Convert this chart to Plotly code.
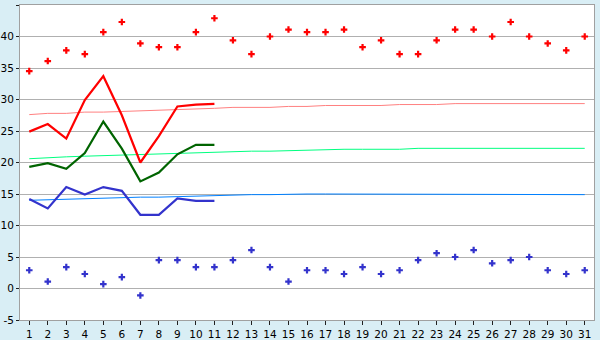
import plotly.graph_objects as go

days = list(range(1, 32))
max_temp = [34.5, 36.1, 37.8, 37.2, 40.7, 42.3, 38.9, 38.3, 38.3, 40.7, 42.9, 39.4, 37.2, 40.0, 41.1, 40.7,
            40.7, 41.1, 38.3, 39.4, 37.2, 37.2, 39.4, 41.1, 41.1, 40.0, 42.3, 40.0, 38.9, 37.8, 40.0]
min_temp = [2.9, 1.1, 3.4, 2.3, 0.7, 1.8, -1.1, 4.5, 4.5, 3.4, 3.4, 4.5, 6.1, 3.4, 1.1, 2.9,
            2.9, 2.3, 3.4, 2.3, 2.9, 4.5, 5.6, 5.0, 6.1, 4.0, 4.5, 5.0, 2.9, 2.3, 2.9]
days_obs = list(range(1, 12))
avg_max = [24.9, 26.1, 23.8, 29.9, 33.7, 27.5, 20.0, 24.2, 28.9, 29.2, 29.3]
avg_mean = [19.3, 19.9, 19.0, 21.5, 26.5, 22.2, 17.0, 18.4, 21.3, 22.8, 22.8]
avg_min = [14.2, 12.7, 16.1, 14.9, 16.1, 15.5, 11.7, 11.7, 14.3, 13.9, 13.9]
norm_max = [27.6, 27.8, 27.8, 28.0, 28.0, 28.1, 28.2, 28.3, 28.3, 28.5, 28.6, 28.75, 28.75, 28.75, 28.9, 28.9,
            29.05, 29.05, 29.05, 29.05, 29.2, 29.2, 29.2, 29.35, 29.35, 29.35, 29.35, 29.35, 29.35, 29.35, 29.35]
norm_mean = [20.6, 20.8, 20.9, 21.0, 21.1, 21.2, 21.3, 21.4, 21.4, 21.5, 21.6, 21.8, 21.8, 21.8, 21.9, 21.9,
             22.1, 22.1, 22.1, 22.1, 22.1, 22.25, 22.25, 22.25, 22.25, 22.25, 22.25, 22.25, 22.25, 22.25, 22.25]
norm_min = [14.0, 14.1, 14.2, 14.3, 14.3, 14.5, 14.5, 14.5, 14.6, 14.7, 14.8, 14.9, 14.9, 14.9, 15.0, 15.0,
            15.0, 15.0, 15.0, 15.0, 15.0, 15.0, 15.0, 15.0, 15.0, 15.0, 15.0, 15.0, 15.0, 14.95, 14.9]
y_ticks = [-5, 0, 5, 10, 15, 20, 25, 30, 35, 40, 45]

fig = go.Figure()
fig.add_trace(go.Scatter(x=days, y=norm_max, mode="lines", line=dict(color="#FF8080", width=1)))
fig.add_trace(go.Scatter(x=days, y=norm_mean, mode="lines", line=dict(color="#00FF80", width=1)))
fig.add_trace(go.Scatter(x=days, y=norm_min, mode="lines", line=dict(color="#0080FF", width=1)))
fig.add_trace(go.Scatter(x=days_obs, y=avg_max, mode="lines", line=dict(color="#FF0000", width=2.2)))
fig.add_trace(go.Scatter(x=days_obs, y=avg_mean, mode="lines", line=dict(color="#006400", width=2.2)))
fig.add_trace(go.Scatter(x=days_obs, y=avg_min, mode="lines", line=dict(color="#3333CC", width=2.2)))
fig.add_trace(go.Scatter(x=days, y=max_temp, mode="markers",
                         marker=dict(symbol="cross", size=5.5, color="#FF0000", line=dict(width=0))))
fig.add_trace(go.Scatter(x=days, y=min_temp, mode="markers",
                         marker=dict(symbol="cross", size=5.5, color="#3333CC", line=dict(width=0))))

fig.update_layout(
    width=600, height=340, autosize=False,
    margin=dict(l=20, r=6, t=5, b=20),
    paper_bgcolor="#D9EEF5", plot_bgcolor="#FFFFFF",
    showlegend=False,
    font=dict(family="DejaVu Sans", size=10.5, color="#000000"),
)
fig.update_xaxes(range=[0.5, 31.5], tickvals=days, ticktext=[str(d) for d in days], automargin=False,
                 showgrid=False, zeroline=False, showline=True, linecolor="#A0A0A0", mirror=True,
                 ticks="outside", ticklen=4, tickcolor="#202020", tickfont=dict(size=10.5))
fig.update_yaxes(range=[-5, 45], tickvals=y_ticks, ticktext=[str(v) for v in y_ticks], automargin=False,
                 showgrid=True, gridcolor="#B0B0B0", gridwidth=1, zeroline=False,
                 showline=True, linecolor="#A0A0A0", mirror=True,
                 ticks="outside", ticklen=3, tickcolor="#202020", tickfont=dict(size=10.5))

fig.write_html("out.html")
